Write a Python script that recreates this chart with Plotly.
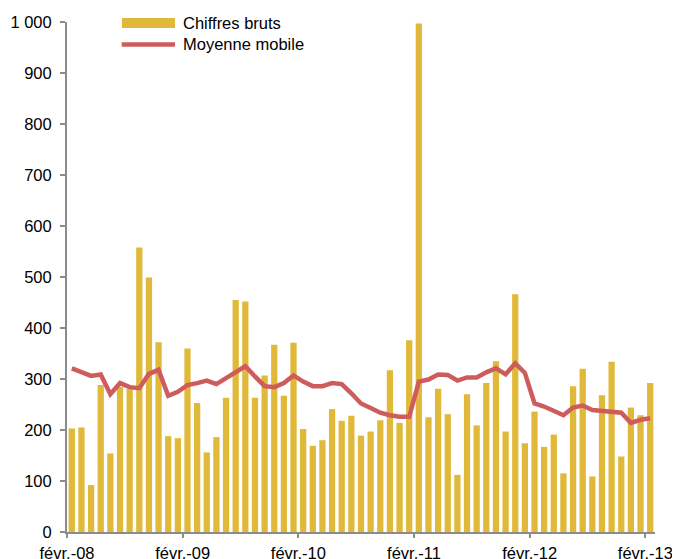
import plotly.graph_objects as go

# monthly series, févr.-08 to févr.-13
MONTHS = ['févr.-08', 'mars-08', 'avr.-08', 'mai-08', 'juin-08', 'juil.-08', 'août-08', 'sept.-08', 'oct.-08', 'nov.-08', 'déc.-08', 'janv.-09',
          'févr.-09', 'mars-09', 'avr.-09', 'mai-09', 'juin-09', 'juil.-09', 'août-09', 'sept.-09', 'oct.-09', 'nov.-09', 'déc.-09', 'janv.-10',
          'févr.-10', 'mars-10', 'avr.-10', 'mai-10', 'juin-10', 'juil.-10', 'août-10', 'sept.-10', 'oct.-10', 'nov.-10', 'déc.-10', 'janv.-11',
          'févr.-11', 'mars-11', 'avr.-11', 'mai-11', 'juin-11', 'juil.-11', 'août-11', 'sept.-11', 'oct.-11', 'nov.-11', 'déc.-11', 'janv.-12',
          'févr.-12', 'mars-12', 'avr.-12', 'mai-12', 'juin-12', 'juil.-12', 'août-12', 'sept.-12', 'oct.-12', 'nov.-12', 'déc.-12', 'janv.-13',
          'févr.-13']

RAW = [203, 205, 92, 288, 154, 285, 281, 558, 499, 372, 188, 184,
       360, 253, 156, 186, 263, 455, 452, 263, 307, 367, 267, 371,
       202, 169, 180, 241, 218, 228, 189, 197, 219, 317, 214, 376,
       997, 225, 281, 231, 112, 270, 209, 292, 335, 197, 466, 174,
       236, 167, 191, 115, 286, 320, 109, 268, 334, 148, 244, 229,
       292]

MOVING_AVG = [321, 314, 306, 309, 270, 292, 284, 282, 310, 318, 267, 275,
              288, 292, 297, 290, 301, 314, 325, 305, 286, 284, 292, 307,
              295, 286, 286, 292, 290, 272, 252, 243, 234, 229, 226, 226,
              295, 299, 309, 308, 297, 303, 303, 313, 321, 309, 331, 312,
              252, 246, 238, 229, 244, 248, 239, 237, 237, 234, 214, 220,
              223]

Y_TICKS = [0, 100, 200, 300, 400, 500, 600, 700, 800, 900, 1000]
Y_TICK_TEXT = ['0', '100', '200', '300', '400', '500', '600', '700', '800', '900', '1 000']

BAR_COLOUR = '#e1b93a'
LINE_COLOUR = '#cf5c5c'
AXIS_COLOUR = '#8c8c8c'

x_idx = list(range(len(MONTHS)))
# ticks sit on the left boundary of each february
x_ticks = [i - 0.5 for i in x_idx if MONTHS[i].startswith('févr.')]
x_tick_text = [MONTHS[i] for i in x_idx if MONTHS[i].startswith('févr.')]

fig = go.Figure()

fig.add_trace(go.Bar(
    x=x_idx,
    y=RAW,
    name='Chiffres bruts',
    marker_color=BAR_COLOUR,
    marker_line_width=0,
    showlegend=False,
))

fig.add_trace(go.Scatter(
    x=x_idx,
    y=MOVING_AVG,
    name='Moyenne mobile',
    mode='lines',
    line=dict(color=LINE_COLOUR, width=4.5),
    showlegend=False,
))

# hand drawn legend to get the wide excel style swatches
fig.add_shape(type='rect', xref='paper', yref='paper',
              x0=0.0935, x1=0.1837, y0=0.988, y1=1.0078,
              fillcolor=BAR_COLOUR, line_width=0)
fig.add_shape(type='line', xref='paper', yref='paper',
              x0=0.093, x1=0.1837, y0=0.956, y1=0.956,
              line=dict(color=LINE_COLOUR, width=4.5))
fig.add_annotation(text='Chiffres bruts', xref='paper', yref='paper',
                   x=0.1935, y=0.998, xanchor='left', yanchor='middle', showarrow=False)
fig.add_annotation(text='Moyenne mobile', xref='paper', yref='paper',
                   x=0.1935, y=0.957, xanchor='left', yanchor='middle', showarrow=False)

# page body has an 8px margin, so the figure is 8px smaller than the window
fig.update_layout(
    width=672, height=551,
    margin=dict(l=59, r=25, t=14, b=27),
    plot_bgcolor='white',
    paper_bgcolor='white',
    font=dict(family='Arial, Liberation Sans, sans-serif', size=16.5, color='black'),
    bargap=0.35,
    showlegend=False,
)

fig.update_xaxes(
    range=[-0.5, len(MONTHS) - 0.5],
    tickvals=x_ticks, ticktext=x_tick_text,
    ticks='outside', ticklen=4, tickcolor=AXIS_COLOUR, tickwidth=1.5,
    ticklabelstandoff=1,
    showline=True, linecolor=AXIS_COLOUR, linewidth=2,
    showgrid=False, zeroline=False, automargin=False,
)
fig.update_yaxes(
    range=[0, 1000],
    tickvals=Y_TICKS, ticktext=Y_TICK_TEXT,
    ticks='outside', ticklen=5, tickcolor=AXIS_COLOUR, tickwidth=1.5,
    ticklabelstandoff=5,
    showline=True, linecolor=AXIS_COLOUR, linewidth=2,
    showgrid=False, zeroline=False, automargin=False,
)
# second copy of the y axis only for the inner half of the cross ticks
fig.update_layout(yaxis2=dict(
    overlaying='y', anchor='x', side='left', range=[0, 1000],
    tickvals=Y_TICKS, ticks='inside', ticklen=4, tickcolor=AXIS_COLOUR, tickwidth=1.5,
    showticklabels=False, showline=False, showgrid=False, zeroline=False, automargin=False,
))

fig.write_html("out.html")
